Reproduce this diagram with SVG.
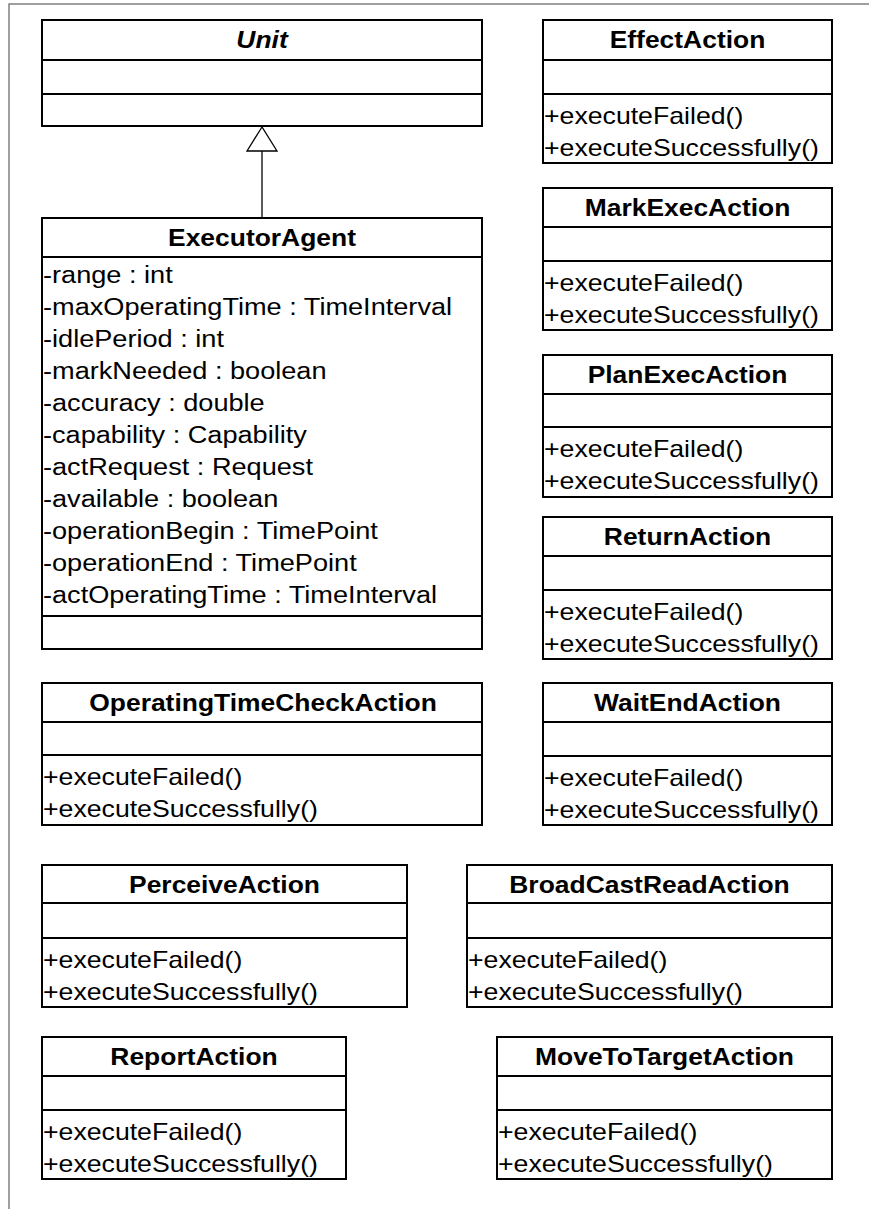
<svg xmlns="http://www.w3.org/2000/svg" width="869" height="1209" viewBox="0 0 869 1209">
  <style>
    .box { fill: #ffffff; stroke: #000000; stroke-width: 2; }
    .sep { stroke: #000000; stroke-width: 2; }
    .frame { fill: none; stroke: #808080; stroke-width: 1.5; }
    .edge { fill: none; stroke: #000000; stroke-width: 1.3; }
    .head { fill: #ffffff; stroke: #000000; stroke-width: 1.3; }
    text { font-family: "Liberation Sans", Arial, sans-serif; font-size: 23.4px; fill: #000000; }
    .title { font-weight: bold; text-anchor: middle; }
    .abstract { font-style: italic; }
  </style>
  <rect x="0" y="0" width="869" height="1209" fill="#ffffff"/>
  <!-- diagram frame (continues past the right and bottom edges) -->
  <rect class="frame" x="9" y="4" width="900" height="1240"/>

  <!-- generalization: ExecutorAgent extends Unit -->
  <g id="connectors">
    <line class="edge" x1="262" y1="151" x2="262" y2="218"/>
    <polygon class="head" points="262,127 247,151 277,151"/>
  </g>

  <g id="Unit">
    <rect class="box" x="42" y="20" width="440" height="106"/>
    <line class="sep" x1="42" y1="60" x2="482" y2="60"/>
    <line class="sep" x1="42" y1="94" x2="482" y2="94"/>
    <text class="title abstract" transform="translate(262 48) scale(1.13 1)">Unit</text>
  </g>

  <g id="ExecutorAgent">
    <rect class="box" x="42" y="218" width="440" height="431"/>
    <line class="sep" x1="42" y1="257" x2="482" y2="257"/>
    <line class="sep" x1="42" y1="616" x2="482" y2="616"/>
    <text class="title" transform="translate(262 246) scale(1.13 1)">ExecutorAgent</text>
    <text transform="translate(43 283) scale(1.16 1)">-range : int</text>
    <text transform="translate(43 315) scale(1.16 1)">-maxOperatingTime : TimeInterval</text>
    <text transform="translate(43 347) scale(1.16 1)">-idlePeriod : int</text>
    <text transform="translate(43 379) scale(1.16 1)">-markNeeded : boolean</text>
    <text transform="translate(43 411) scale(1.16 1)">-accuracy : double</text>
    <text transform="translate(43 443) scale(1.16 1)">-capability : Capability</text>
    <text transform="translate(43 475) scale(1.16 1)">-actRequest : Request</text>
    <text transform="translate(43 507) scale(1.16 1)">-available : boolean</text>
    <text transform="translate(43 539) scale(1.16 1)">-operationBegin : TimePoint</text>
    <text transform="translate(43 571) scale(1.16 1)">-operationEnd : TimePoint</text>
    <text transform="translate(43 603) scale(1.16 1)">-actOperatingTime : TimeInterval</text>
  </g>

  <g id="EffectAction">
    <rect class="box" x="543" y="20" width="289" height="143"/>
    <line class="sep" x1="543" y1="60" x2="832" y2="60"/>
    <line class="sep" x1="543" y1="94" x2="832" y2="94"/>
    <text class="title" transform="translate(687.5 48) scale(1.13 1)">EffectAction</text>
    <text transform="translate(544 124) scale(1.14 1)">+executeFailed()</text>
    <text transform="translate(544 156) scale(1.14 1)">+executeSuccessfully()</text>
  </g>

  <g id="MarkExecAction">
    <rect class="box" x="543" y="188" width="289" height="142"/>
    <line class="sep" x1="543" y1="227" x2="832" y2="227"/>
    <line class="sep" x1="543" y1="261" x2="832" y2="261"/>
    <text class="title" transform="translate(687.5 216) scale(1.13 1)">MarkExecAction</text>
    <text transform="translate(544 291) scale(1.14 1)">+executeFailed()</text>
    <text transform="translate(544 323) scale(1.14 1)">+executeSuccessfully()</text>
  </g>

  <g id="PlanExecAction">
    <rect class="box" x="543" y="355" width="289" height="142"/>
    <line class="sep" x1="543" y1="394" x2="832" y2="394"/>
    <line class="sep" x1="543" y1="427" x2="832" y2="427"/>
    <text class="title" transform="translate(687.5 383) scale(1.13 1)">PlanExecAction</text>
    <text transform="translate(544 457) scale(1.14 1)">+executeFailed()</text>
    <text transform="translate(544 489) scale(1.14 1)">+executeSuccessfully()</text>
  </g>

  <g id="ReturnAction">
    <rect class="box" x="543" y="517" width="289" height="142"/>
    <line class="sep" x1="543" y1="556" x2="832" y2="556"/>
    <line class="sep" x1="543" y1="590" x2="832" y2="590"/>
    <text class="title" transform="translate(687.5 545) scale(1.13 1)">ReturnAction</text>
    <text transform="translate(544 620) scale(1.14 1)">+executeFailed()</text>
    <text transform="translate(544 652) scale(1.14 1)">+executeSuccessfully()</text>
  </g>

  <g id="OperatingTimeCheckAction">
    <rect class="box" x="42" y="683" width="440" height="142"/>
    <line class="sep" x1="42" y1="722" x2="482" y2="722"/>
    <line class="sep" x1="42" y1="755" x2="482" y2="755"/>
    <text class="title" transform="translate(263 711) scale(1.13 1)">OperatingTimeCheckAction</text>
    <text transform="translate(43 785) scale(1.14 1)">+executeFailed()</text>
    <text transform="translate(43 817) scale(1.14 1)">+executeSuccessfully()</text>
  </g>

  <g id="WaitEndAction">
    <rect class="box" x="543" y="683" width="289" height="142"/>
    <line class="sep" x1="543" y1="722" x2="832" y2="722"/>
    <line class="sep" x1="543" y1="756" x2="832" y2="756"/>
    <text class="title" transform="translate(687.5 711) scale(1.13 1)">WaitEndAction</text>
    <text transform="translate(544 786) scale(1.14 1)">+executeFailed()</text>
    <text transform="translate(544 818) scale(1.14 1)">+executeSuccessfully()</text>
  </g>

  <g id="PerceiveAction">
    <rect class="box" x="42" y="865" width="365" height="142"/>
    <line class="sep" x1="42" y1="903" x2="407" y2="903"/>
    <line class="sep" x1="42" y1="938" x2="407" y2="938"/>
    <text class="title" transform="translate(224.5 893) scale(1.13 1)">PerceiveAction</text>
    <text transform="translate(43 968) scale(1.14 1)">+executeFailed()</text>
    <text transform="translate(43 1000) scale(1.14 1)">+executeSuccessfully()</text>
  </g>

  <g id="BroadCastReadAction">
    <rect class="box" x="467" y="865" width="365" height="142"/>
    <line class="sep" x1="467" y1="903" x2="832" y2="903"/>
    <line class="sep" x1="467" y1="938" x2="832" y2="938"/>
    <text class="title" transform="translate(649.5 893) scale(1.13 1)">BroadCastReadAction</text>
    <text transform="translate(468 968) scale(1.14 1)">+executeFailed()</text>
    <text transform="translate(468 1000) scale(1.14 1)">+executeSuccessfully()</text>
  </g>

  <g id="ReportAction">
    <rect class="box" x="42" y="1037" width="304" height="142"/>
    <line class="sep" x1="42" y1="1076" x2="346" y2="1076"/>
    <line class="sep" x1="42" y1="1110" x2="346" y2="1110"/>
    <text class="title" transform="translate(194 1065) scale(1.13 1)">ReportAction</text>
    <text transform="translate(43 1140) scale(1.14 1)">+executeFailed()</text>
    <text transform="translate(43 1172) scale(1.14 1)">+executeSuccessfully()</text>
  </g>

  <g id="MoveToTargetAction">
    <rect class="box" x="497" y="1037" width="335" height="142"/>
    <line class="sep" x1="497" y1="1076" x2="832" y2="1076"/>
    <line class="sep" x1="497" y1="1110" x2="832" y2="1110"/>
    <text class="title" transform="translate(664.5 1065) scale(1.13 1)">MoveToTargetAction</text>
    <text transform="translate(498 1140) scale(1.14 1)">+executeFailed()</text>
    <text transform="translate(498 1172) scale(1.14 1)">+executeSuccessfully()</text>
  </g>
</svg>
